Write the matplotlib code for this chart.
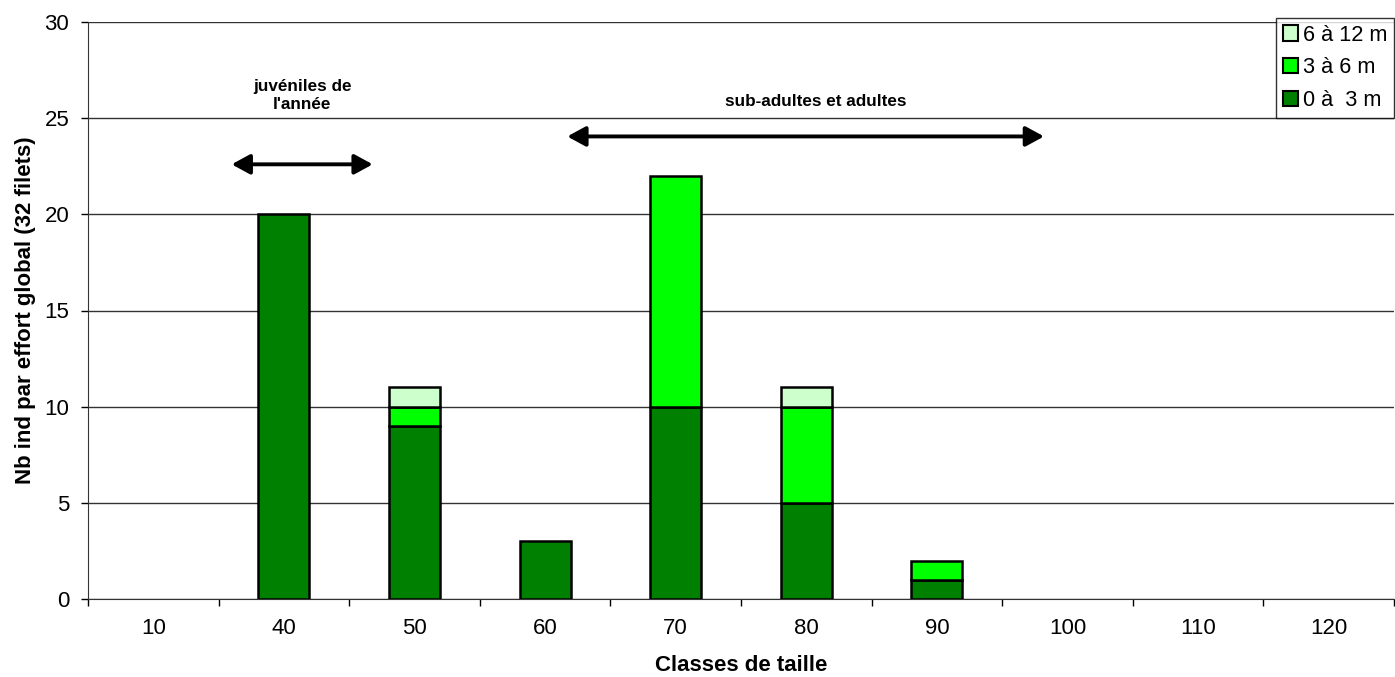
import numpy as np
import matplotlib.pyplot as plt
from matplotlib.patches import Patch

plt.rcParams['font.family'] = ['Liberation Sans', 'DejaVu Sans']

# classes de taille et effectifs par tranche de profondeur
classes = ['10', '40', '50', '60', '70', '80', '90', '100', '110', '120']
prof_0_3 = [0, 20, 9, 3, 10, 5, 1, 0, 0, 0]
prof_3_6 = [0, 0, 1, 0, 12, 5, 1, 0, 0, 0]
prof_6_12 = [0, 0, 1, 0, 0, 1, 0, 0, 0, 0]

couleurs = ['#008000', '#00FF00', '#CCFFCC']
labels = ['0 à  3 m', '3 à 6 m', '6 à 12 m']

fig = plt.figure(figsize=(13.95, 6.77), dpi=100)
ax = fig.add_axes([88 / 1395, 78 / 677, 1306 / 1395, 577 / 677])

x = np.arange(len(classes))
w = 0.39
b1 = np.array(prof_0_3)
b2 = b1 + np.array(prof_3_6)
for vals, bas, c in [(prof_0_3, 0, couleurs[0]), (prof_3_6, b1, couleurs[1]),
                     (prof_6_12, b2, couleurs[2])]:
    vals = np.array(vals)
    m = vals > 0
    ax.bar(x[m], vals[m], w, bottom=(bas[m] if np.ndim(bas) else 0),
           color=c, edgecolor='black', linewidth=1.8, zorder=3)

ax.set_xlim(-0.5, len(classes) - 0.5)
ax.set_ylim(0, 30)
ax.set_yticks(range(0, 31, 5))
ax.yaxis.grid(True, color='#333333', linewidth=1, zorder=0)
ax.set_xticks(x)
ax.set_xticklabels(classes)
ax.set_xticks(np.arange(-0.5, len(classes)), minor=True)
ax.tick_params(axis='x', which='major', length=0, labelsize=16, pad=14)
ax.tick_params(axis='x', which='minor', length=5, width=1, direction='out')
ax.tick_params(axis='y', length=5, width=1, labelsize=16, pad=8.5)
for s in ['top', 'right']:
    ax.spines[s].set_visible(False)
ax.spines['left'].set_color('#333333')
ax.spines['bottom'].set_color('#333333')

ax.set_xlabel('Classes de taille', fontsize=16, fontweight='bold')
ax.xaxis.set_label_coords(0.5, -0.097)
ax.set_ylabel('Nb ind par effort global (32 filets)', fontsize=16,
              fontweight='bold', labelpad=6)

# flèches des groupes d'âge
fl = dict(arrowstyle='<|-|>,head_length=0.55,head_width=0.3', color='black',
          lw=2.8, mutation_scale=20, shrinkA=0, shrinkB=0)
ax.annotate('', xy=(0.60, 22.6), xytext=(1.68, 22.6), arrowprops=fl)
ax.annotate('', xy=(3.17, 24.05), xytext=(6.82, 24.05), arrowprops=fl)
ax.text(1.14, 26.2, "juvéniles de\nl'année", ha='center', va='center',
        fontsize=12.3, fontweight='bold', linespacing=1.25)
ax.text(5.07, 25.85, 'sub-adultes et adultes', ha='center', va='center',
        fontsize=12.3, fontweight='bold')

handles = [Patch(facecolor=couleurs[i], edgecolor='black', label=labels[i])
           for i in [2, 1, 0]]
leg = ax.legend(handles=handles, loc='upper right', bbox_to_anchor=(1.0, 1.007),
                fontsize=15.7, frameon=True, fancybox=False, handlelength=0.7,
                handleheight=0.7, handletextpad=0.23, borderpad=0.3,
                labelspacing=0.55, borderaxespad=0)
leg.get_frame().set_edgecolor('black')
leg.get_frame().set_linewidth(1)
for h in leg.legend_handles:
    h.set_linewidth(1.5)

fig.savefig('out.png', dpi=100)
